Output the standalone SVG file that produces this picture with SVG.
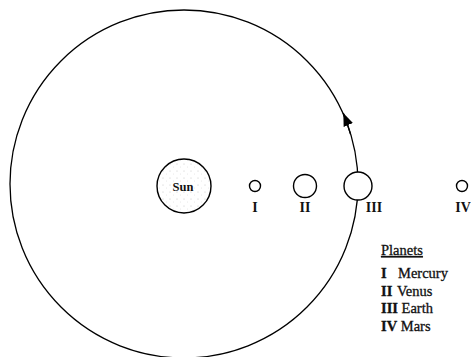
<svg xmlns="http://www.w3.org/2000/svg" width="471" height="357" viewBox="0 0 471 357">
<style>
.line{fill:none;stroke:#000;stroke-width:1.3}
.body{fill:#fff;stroke:#000;stroke-width:1.4}
.lbl{font-family:"Liberation Serif",serif;font-size:14px;font-weight:bold;fill:#111;text-anchor:middle}
.leg{font-family:"Liberation Serif",serif;font-size:14.5px;fill:#111;stroke:#111;stroke-width:0.3}
</style>
<defs>
<marker id="ah" markerUnits="userSpaceOnUse" markerWidth="16" markerHeight="12" refX="13" refY="5" orient="auto">
<path d="M0,0 L13,5 L0,10 Z" fill="#000"/>
</marker>
<pattern id="stip" width="7" height="7" patternUnits="userSpaceOnUse">
<rect width="7" height="7" fill="#fff"/>
<circle cx="2" cy="3" r="0.5" fill="#bbb"/>
<circle cx="5.5" cy="6" r="0.4" fill="#ccc"/>
</pattern>
</defs>
<g id="connectors">
<circle class="line" cx="184" cy="184" r="174"/>
<path class="line" d="M350.5,134 A174,174 0 0 0 343.3,113" marker-end="url(#ah)"/>
</g>
<g id="sun">
<circle cx="184" cy="186" r="27" fill="url(#stip)" stroke="#000" stroke-width="1.4"/>
<text x="183" y="191" class="lbl" style="font-size:12.5px">Sun</text>
</g>
<g id="mercury">
<circle class="body" cx="255" cy="186" r="5.5"/>
<text x="255" y="212" class="lbl">I</text>
</g>
<g id="venus">
<circle class="body" cx="305" cy="186" r="11.5"/>
<text x="305" y="212" class="lbl">II</text>
</g>
<g id="earth">
<circle class="body" cx="358" cy="186" r="14"/>
<text x="374" y="212" class="lbl">III</text>
</g>
<g id="mars">
<circle class="body" cx="462" cy="186" r="5.5"/>
<text x="463" y="212" class="lbl">IV</text>
</g>
<g id="legend">
<text x="381" y="255" class="leg" text-decoration="underline">Planets</text>
<text x="381" y="278" class="leg"><tspan font-weight="bold">I</tspan><tspan x="398">Mercury</tspan></text>
<text x="381" y="296" class="leg"><tspan font-weight="bold">II</tspan><tspan x="397">Venus</tspan></text>
<text x="381" y="313" class="leg"><tspan font-weight="bold">III</tspan> Earth</text>
<text x="381" y="331" class="leg"><tspan font-weight="bold">IV</tspan> Mars</text>
</g>
</svg>
